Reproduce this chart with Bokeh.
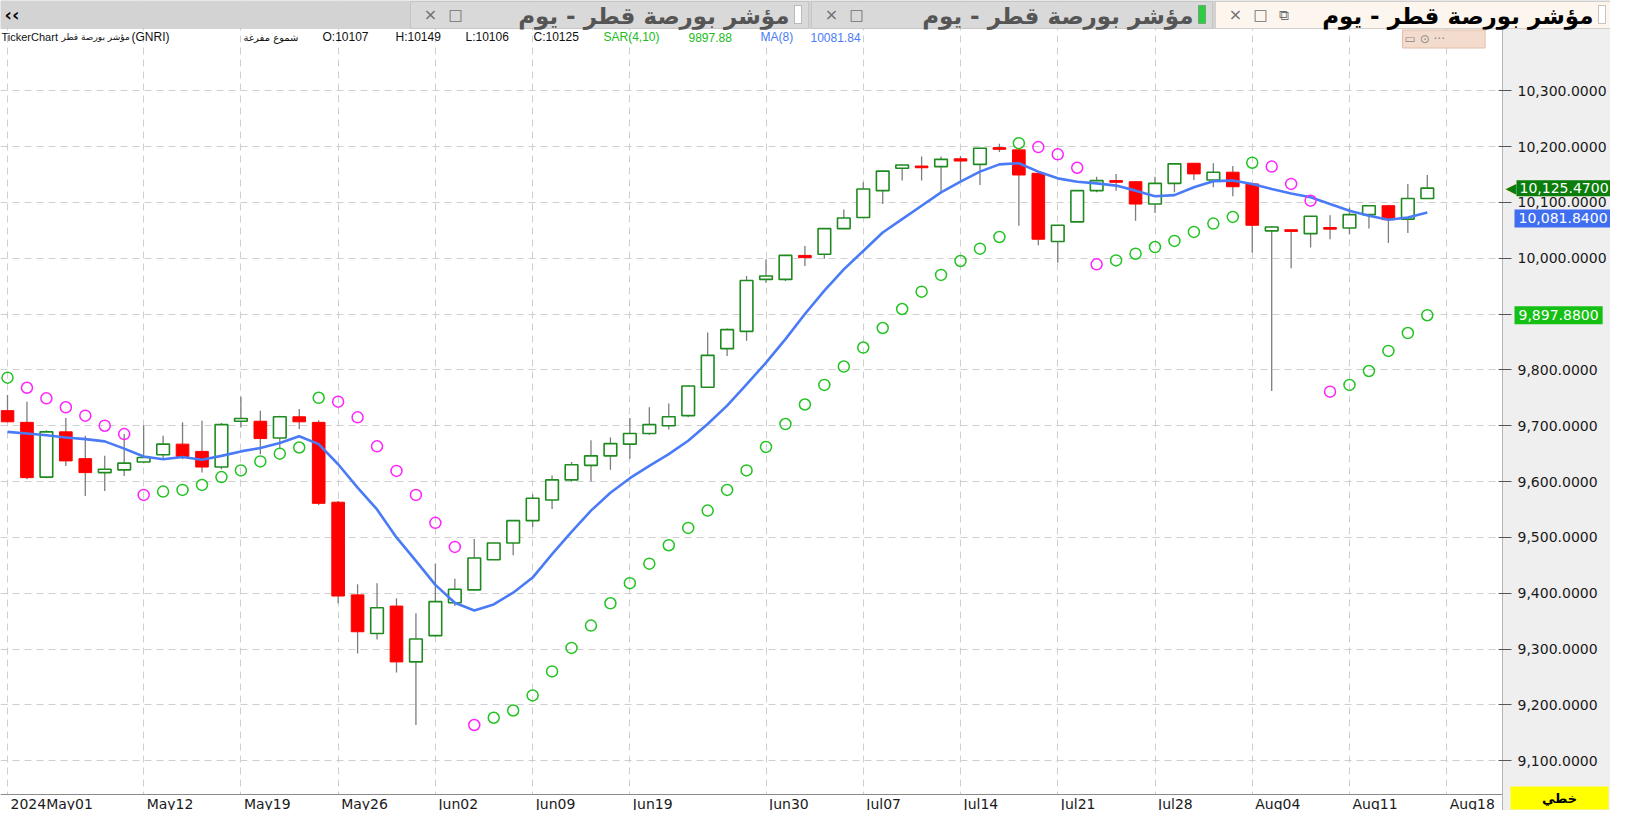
from bokeh.plotting import figure
from bokeh.models import (ColumnDataSource, Range1d, FixedTicker, Label, BoxAnnotation,
                          NumeralTickFormatter)
from bokeh.embed import file_html
from bokeh.resources import INLINE

# ---------------- data ----------------
dates = ["2024-05-01", "2024-05-02", "2024-05-05", "2024-05-06", "2024-05-07", "2024-05-08", "2024-05-09",
         "2024-05-12", "2024-05-13", "2024-05-14", "2024-05-15", "2024-05-16",
         "2024-05-19", "2024-05-20", "2024-05-21", "2024-05-22", "2024-05-23",
         "2024-05-26", "2024-05-27", "2024-05-28", "2024-05-29", "2024-05-30",
         "2024-06-02", "2024-06-03", "2024-06-04", "2024-06-05", "2024-06-06",
         "2024-06-09", "2024-06-10", "2024-06-11", "2024-06-12", "2024-06-13",
         "2024-06-19", "2024-06-20", "2024-06-23", "2024-06-24", "2024-06-25", "2024-06-26", "2024-06-27",
         "2024-06-30", "2024-07-01", "2024-07-02", "2024-07-03", "2024-07-04",
         "2024-07-07", "2024-07-08", "2024-07-09", "2024-07-10", "2024-07-11",
         "2024-07-14", "2024-07-15", "2024-07-16", "2024-07-17", "2024-07-18",
         "2024-07-21", "2024-07-22", "2024-07-23", "2024-07-24", "2024-07-25",
         "2024-07-28", "2024-07-29", "2024-07-30", "2024-07-31", "2024-08-01",
         "2024-08-04", "2024-08-05", "2024-08-06", "2024-08-07", "2024-08-08",
         "2024-08-11", "2024-08-12", "2024-08-13", "2024-08-14", "2024-08-15"]

opens = [9727, 9706, 9608, 9689, 9641, 9616, 9621, 9635, 9648, 9667, 9654, 9626, 9708, 9708, 9678, 9716,
         9706, 9563, 9397, 9328, 9377, 9277, 9324, 9383, 9406, 9460, 9490, 9530, 9567, 9603, 9629, 9646,
         9667, 9686, 9700, 9718, 9769, 9838, 9869, 9962, 9962, 10005, 10007, 10053, 10073, 10121, 10161,
         10165, 10164, 10178, 10168, 10198, 10194, 10152, 10030, 10065, 10121, 10139, 10137, 10097, 10134,
         10170, 10140, 10154, 10133, 10049, 10051, 10044, 10055, 10054, 10078, 10094, 10070, 10107]
highs = [9755, 9743, 9692, 9714, 9682, 9646, 9685, 9701, 9682, 9706, 9709, 9705, 9752, 9727, 9718, 9730,
         9710, 9565, 9416, 9418, 9391, 9364, 9453, 9426, 9497, 9490, 9531, 9577, 9611, 9635, 9674, 9679,
         9714, 9733, 9740, 9772, 9867, 9874, 9968, 9998, 10006, 10022, 10054, 10087, 10136, 10156, 10168,
         10182, 10182, 10183, 10198, 10205, 10196, 10152, 10060, 10121, 10146, 10151, 10138, 10146, 10170,
         10170, 10170, 10165, 10133, 10057, 10051, 10075, 10077, 10091, 10095, 10094, 10133, 10149]
lows = [9706, 9604, 9606, 9628, 9574, 9583, 9610, 9633, 9639, 9640, 9616, 9622, 9697, 9649, 9658, 9694,
        9558, 9382, 9292, 9317, 9258, 9164, 9322, 9377, 9405, 9459, 9468, 9518, 9551, 9600, 9600, 9621,
        9641, 9684, 9693, 9715, 9768, 9825, 9852, 9956, 9959, 9986, 9999, 10052, 10072, 10097, 10139,
        10139, 10119, 10139, 10131, 10190, 10058, 10023, 9992, 10064, 10118, 10121, 10067, 10081, 10118,
        10140, 10127, 10111, 10010, 9762, 9982, 10019, 10034, 10043, 10053, 10027, 10045, 10106]
closes = [9707, 9607, 9689, 9637, 9616, 9622, 9633, 9643, 9667, 9645, 9626, 9702, 9713, 9677, 9716, 9707,
          9561, 9395, 9331, 9374, 9277, 9318, 9385, 9407, 9463, 9490, 9530, 9570, 9603, 9630, 9646, 9668,
          9686, 9702, 9716, 9771, 9826, 9872, 9960, 9968, 10005, 10001, 10053, 10072, 10124, 10156, 10167,
          10162, 10177, 10174, 10197, 10195, 10149, 10034, 10059, 10121, 10139, 10136, 10097, 10134, 10169,
          10151, 10154, 10128, 10059, 10056, 10048, 10075, 10052, 10078, 10094, 10069, 10107, 10125.47]

# Parabolic SAR(4,10): value and whether the dot is drawn green (1) or magenta (0)
sar = [9786, 9768, 9749, 9733, 9718, 9700, 9685, 9576, 9582, 9585, 9594, 9608, 9620, 9636, 9650, 9661,
       9750, 9743, 9715, 9663, 9619, 9576, 9526, 9483, 9164, 9177, 9190, 9217, 9260, 9302, 9342, 9382,
       9418, 9453, 9486, 9517, 9548, 9585, 9620, 9662, 9703, 9738, 9773, 9806, 9840, 9875, 9909,
       9940, 9970, 9995, 10017, 10038, 10206, 10199, 10186, 10162, 9989, 9996, 10008, 10020, 10031,
       10047, 10062, 10074, 10171, 10164, 10133, 10103, 9761, 9773, 9798, 9834, 9866, 9897.88]
sar_green = [1, 0, 0, 0, 0, 0, 0, 0, 1, 1, 1, 1, 1, 1, 1, 1,
             1, 0, 0, 0, 0, 0, 0, 0, 0, 1, 1, 1, 1, 1, 1, 1,
             1, 1, 1, 1, 1, 1, 1, 1, 1, 1, 1, 1, 1, 1, 1,
             1, 1, 1, 1, 1, 1, 0, 0, 0, 0, 1, 1, 1, 1,
             1, 1, 1, 1, 0, 0, 0, 0, 1, 1, 1, 1, 1]

# MA(8)
ma8 = [9689, 9686, 9683, 9679, 9676, 9672, 9659, 9645, 9640, 9644, 9639, 9646, 9654, 9660, 9669, 9681,
       9667, 9631, 9589, 9550, 9500, 9458, 9415, 9383, 9369, 9380, 9401, 9428, 9470, 9510, 9548, 9580,
       9606, 9628, 9649, 9673, 9703, 9736, 9774, 9813, 9855, 9900, 9942, 9980, 10013, 10046, 10070,
       10094, 10118, 10137, 10155, 10168, 10170, 10155, 10143, 10137, 10134, 10130, 10121, 10111, 10113,
       10127, 10138, 10139, 10133, 10124, 10116, 10109, 10097, 10085, 10076, 10069, 10073, 10081.84]

tick_dates = ["2024-05-01", "2024-05-12", "2024-05-19", "2024-05-26", "2024-06-02", "2024-06-09",
              "2024-06-19", "2024-06-30", "2024-07-07", "2024-07-14", "2024-07-21", "2024-07-28",
              "2024-08-04", "2024-08-11", "2024-08-18"]
tick_labels = ["2024May01", "May12", "May19", "May26", "Jun02", "Jun09", "Jun19", "Jun30",
               "Jul07", "Jul14", "Jul21", "Jul28", "Aug04", "Aug11", "Aug18"]
price_ticks = [9100, 9200, 9300, 9400, 9500, 9600, 9700, 9800, 9900, 10000, 10100, 10200, 10300]

title_ar = "مؤشر بورصة قطر - يوم"
name_ar = "مؤشر بورصة قطر"
style_ar = "شموع مفرغة"
linear_ar = "خطي"

# ---------------- layout constants (pixels) ----------------
W, H = 1610, 810          # figure = frame (whole canvas)
TAB = 28                  # tab bar height
PW = 1502                 # right edge of the price area
PB = 794                  # bottom edge of the price area
X0, X1 = -0.36, 82.42     # index range across full width
Y0, Y1 = 9010.9, 10461.5  # price range across full height


def px_to_idx(px):
    return X0 + px / W * (X1 - X0)


def px_to_price(py):
    return Y1 - py / H * (Y1 - Y0)


xs = list(range(len(dates)))
tick_pos = [dates.index(d) if d in dates else len(dates) for d in tick_dates]

p = figure(width=W, height=H, output_backend="svg", toolbar_location=None,
           x_range=Range1d(X0, X1), y_range=Range1d(Y0, Y1),
           min_border=0, min_border_left=0, min_border_right=0, min_border_top=0, min_border_bottom=0,
           y_axis_location="right", background_fill_color="white", border_fill_color="white",
           outline_line_color=None)
p.extra_x_ranges = {"px": Range1d(0, W)}
p.extra_y_ranges = {"px": Range1d(H, 0)}

# grids
p.xgrid.ticker = FixedTicker(ticks=tick_pos)
p.ygrid.ticker = FixedTicker(ticks=price_ticks)
for g in (p.xgrid, p.ygrid):
    g.grid_line_color = "#cfcfcf"
    g.grid_line_dash = "7 5"
    g.grid_line_width = 1

# cover grid outside the price area (drawn after grids, below axes)
p.add_layout(BoxAnnotation(left=0, right=PW, top=PB, bottom=H, x_range_name="px", y_range_name="px",
                           fill_color="white", fill_alpha=1, line_color=None, level="underlay"))
p.add_layout(BoxAnnotation(left=PW, right=W, top=TAB, bottom=H, x_range_name="px", y_range_name="px",
                           fill_color="#efefef", fill_alpha=1, line_color=None, level="underlay"))

# price axis, fixed at the right edge of the price area
p.yaxis.fixed_location = px_to_idx(PW)
p.yaxis.bounds = (Y0, px_to_price(TAB))
p.yaxis.ticker = FixedTicker(ticks=price_ticks)
p.yaxis.formatter = NumeralTickFormatter(format="0,0.0000")
p.yaxis.major_label_text_font = "DejaVu Sans"
p.yaxis.major_label_text_font_size = "14px"
p.yaxis.major_label_text_color = "#1a1a1a"
p.yaxis.major_tick_in = 4
p.yaxis.major_tick_out = 9
p.yaxis.major_tick_line_color = "#555555"
p.yaxis.minor_tick_line_color = None
p.yaxis.axis_line_color = "#b4b4b4"
p.yaxis.major_label_standoff = 6

# time axis line, fixed at the bottom of the price area
p.xaxis.fixed_location = px_to_price(PB)
p.xaxis.bounds = (X0, px_to_idx(PW))
p.xaxis.ticker = FixedTicker(ticks=[])
p.xaxis.minor_tick_line_color = None
p.xaxis.axis_line_color = "#8a8a8a"

# ---------------- candles ----------------
up = [c >= o for o, c in zip(opens, closes)]
src = ColumnDataSource(dict(x=xs, o=opens, h=highs, l=lows, c=closes,
                            top=[max(o, c) for o, c in zip(opens, closes)],
                            bot=[min(o, c) for o, c in zip(opens, closes)]))
up_src = ColumnDataSource({k: [v for v, u in zip(vals, up) if u] for k, vals in src.data.items()})
dn_src = ColumnDataSource({k: [v for v, u in zip(vals, up) if not u] for k, vals in src.data.items()})

p.segment(x0="x", y0="l", x1="x", y1="h", source=src, line_color="#7d7d7d", line_width=1.3)
p.vbar(x="x", width=0.65, top="top", bottom="bot", source=up_src, fill_color="white",
       line_color="#1f8a1f", line_width=1.6)
p.vbar(x="x", width=0.65, top="top", bottom="bot", source=dn_src, fill_color="#ff0000",
       line_color="#ff0000", line_width=1)

# MA(8)
p.line(xs, ma8, line_color="#4a7bf7", line_width=2.6)

# SAR
sar_src = ColumnDataSource(dict(x=xs, y=sar,
                                color=["#22c322" if g else "#ff22ff" for g in sar_green]))
p.scatter(x="x", y="y", source=sar_src, marker="circle", size=11, fill_color=None,
          line_color="color", line_width=1.5)

# ---------------- tab bar ----------------
p.add_layout(BoxAnnotation(left=0, right=W, top=0, bottom=TAB, x_range_name="px", y_range_name="px",
                           fill_color="#d3d3d3", fill_alpha=1, line_color="#a9a9a9"))
tabs = [(410, 808, "#d9d9d9", "#555555", "white"),
        (811, 1212, "#d9d9d9", "#555555", "#2ecc40"),
        (1215, 1612, "#fdf6ef", "#000000", "white")]
for (l, r, bg, tc, ind) in tabs:
    p.add_layout(BoxAnnotation(left=l, right=r, top=1, bottom=TAB, x_range_name="px", y_range_name="px",
                               fill_color=bg, fill_alpha=1, line_color="#a0a0a0", line_width=1))
    p.add_layout(BoxAnnotation(left=r - 14, right=r - 7, top=5, bottom=23, x_range_name="px",
                               y_range_name="px", fill_color=ind, fill_alpha=1, line_color="#444444",
                               line_width=1))
    p.add_layout(Label(x=r - 19, y=15, x_range_name="px", y_range_name="px", text=title_ar,
                       text_font="DejaVu Sans", text_font_style="bold", text_font_size="23px",
                       text_color=tc, text_align="right", text_baseline="middle"))
    p.add_layout(Label(x=l + 20, y=14, x_range_name="px", y_range_name="px", text="×",
                       text_font="DejaVu Sans", text_font_size="16px", text_color="#707070",
                       text_align="center", text_baseline="middle"))
    p.add_layout(Label(x=l + 45, y=14, x_range_name="px", y_range_name="px", text="□",
                       text_font="DejaVu Sans", text_font_size="15px", text_color="#707070",
                       text_align="center", text_baseline="middle"))
p.add_layout(Label(x=1215 + 68, y=14, x_range_name="px", y_range_name="px", text="⧉",
                   text_font="DejaVu Sans", text_font_size="14px", text_color="#707070",
                   text_align="center", text_baseline="middle"))
p.add_layout(Label(x=4, y=14, x_range_name="px", y_range_name="px", text="‹‹",
                   text_font="DejaVu Sans", text_font_style="bold", text_font_size="18px",
                   text_color="#000000", text_align="left", text_baseline="middle"))

# ---------------- legend row ----------------
leg_y = 36.5
legend_items = [
    ("TickerChart", 1, "#111111", "Liberation Sans", "11px"),
    (name_ar, 61, "#111111", "DejaVu Sans", "9px"),
    ("(GNRI)", 131, "#111111", "Liberation Sans", "12px"),
    (style_ar, 243, "#111111", "DejaVu Sans", "10px"),
    ("O:%.0f" % opens[-1], 322, "#111111", "Liberation Sans", "12px"),
    ("H:%.0f" % highs[-1], 395, "#111111", "Liberation Sans", "12px"),
    ("L:%.0f" % lows[-1], 465, "#111111", "Liberation Sans", "12px"),
    ("C:%.0f" % closes[-1], 533, "#111111", "Liberation Sans", "12px"),
    ("SAR(4,10)", 603, "#22bb22", "Liberation Sans", "12px"),
    ("%.2f" % sar[-1], 688, "#22bb22", "Liberation Sans", "12px"),
    ("MA(8)", 760, "#4a7bf7", "Liberation Sans", "12px"),
    ("%.2f" % ma8[-1], 810, "#4a7bf7", "Liberation Sans", "12px"),
]
for t, x, col, font, fs in legend_items:
    p.add_layout(Label(x=x, y=leg_y, x_range_name="px", y_range_name="px", text=t,
                       text_font=font, text_font_size=fs, text_color=col,
                       text_align="left", text_baseline="middle"))

# small chart toolbar box
p.add_layout(Label(x=1402, y=38.5, x_range_name="px", y_range_name="px", text="  ▭    ⊙    ···  ",
                   text_font="DejaVu Sans", text_font_size="12px", text_color="#8a8a8a",
                   text_align="left", text_baseline="middle", background_fill_color="#f3dccd",
                   border_line_color="#e2bea6", padding=2))

# ---------------- x tick labels (left aligned at grid lines) ----------------
for pos, lab in zip(tick_pos, tick_labels):
    p.add_layout(Label(x=pos, y=PB + 1, y_range_name="px", text=lab, x_offset=3,
                       text_font="DejaVu Sans", text_font_size="14px", text_color="#1a1a1a",
                       text_align="left", text_baseline="top"))

# ---------------- price tags ----------------
p.add_layout(Label(x=PW + 3, y=closes[-1], x_range_name="px", text="◀",
                   text_font="DejaVu Sans", text_font_size="14px", text_color="#0a7d0a",
                   text_align="left", text_baseline="middle"))
p.add_layout(Label(x=PW + 14, y=closes[-1], x_range_name="px", text="{:,.4f}".format(closes[-1]),
                   text_font="DejaVu Sans", text_font_size="14px", text_color="white",
                   text_align="left", text_baseline="middle", background_fill_color="#0a7d0a",
                   padding=3))
p.add_layout(Label(x=PW + 12, y=ma8[-1], y_offset=-6, x_range_name="px", text="{:,.4f}".format(ma8[-1]),
                   text_font="DejaVu Sans", text_font_size="14px", text_color="white",
                   text_align="left", text_baseline="middle", background_fill_color="#3f6ff0",
                   padding=4))
p.add_layout(Label(x=PW + 12, y=sar[-1], x_range_name="px", text="{:,.4f}".format(sar[-1]),
                   text_font="DejaVu Sans", text_font_size="14px", text_color="white",
                   text_align="left", text_baseline="middle", background_fill_color="#14c014",
                   padding=4))

# yellow mode box
p.add_layout(BoxAnnotation(left=PW + 8, right=W - 2, top=H - 24, bottom=H - 1, x_range_name="px",
                           y_range_name="px", fill_color="#ffff00", fill_alpha=1, line_color=None))
p.add_layout(Label(x=PW + 8 + (W - 2 - PW - 8) / 2, y=H - 12, x_range_name="px", y_range_name="px",
                   text=linear_ar, text_font="DejaVu Sans", text_font_style="bold", text_font_size="13px",
                   text_color="black", text_align="center", text_baseline="middle"))

open("out.html", "w").write(file_html(p, INLINE))
